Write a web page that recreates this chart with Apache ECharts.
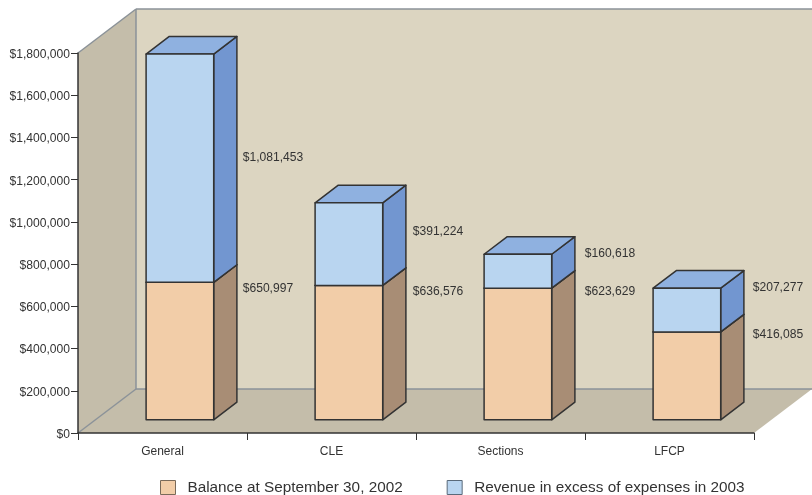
<!DOCTYPE html>
<html><head><meta charset="utf-8">
<style>html,body{margin:0;padding:0;background:#fff}#c{width:812px;height:495px}</style>
<script src="https://cdn.jsdelivr.net/npm/echarts@6/dist/echarts.min.js"></script>
</head><body><div id="c"></div>
<script>
const categories = ['General', 'CLE', 'Sections', 'LFCP'];
const balance = [650997, 636576, 623629, 416085];
const revenue = [1081453, 391224, 160618, 207277];
const seriesNames = ['Balance at September 30, 2002', 'Revenue in excess of expenses in 2003'];
const yTicks = { min: 0, max: 1800000, interval: 200000 };

// layout / style only
const DEPTH_X = 58, DEPTH_Y = 44;       // wall depth in px
const BAR_FRAC = 0.4, FRONT = 0.3, BAR_DEPTH = 0.4; // fractions of band / depth
const balanceLabelNudge = [6, 6, 4, 3];     // px below segment top
const revenueLabelNudge = [104, 29, -1, -1];
const labelGap = [29, 30, 33, 32];          // px right of the bar front
const palette = [
  { front: '#F2CDA8', side: '#A88D75', top: '#D9B795' },
  { front: '#B9D5F0', side: '#7296D0', top: '#8FB1E0' }
];
const EDGE = '#333333', WALL_EDGE = '#8B9298';
const fmt = v => '$' + v.toLocaleString('en-US');

function wallItem(params) {
  const g = params.coordSys, l = g.x, r = g.x + g.width, t = g.y, b = g.y + g.height;
  const dx = DEPTH_X, dy = DEPTH_Y;
  const poly = (pts, fill) => ({ type: 'polygon', shape: { points: pts }, style: { fill: fill, stroke: null } });
  const line = (a, c) => ({ type: 'line', shape: { x1: a[0], y1: a[1], x2: c[0], y2: c[1] }, style: { stroke: WALL_EDGE, lineWidth: 1.5 } });
  return {
    type: 'group',
    children: [
      poly([[l + dx, t - dy], [r + dx, t - dy], [r + dx, b - dy], [l + dx, b - dy]], '#DCD5C1'),
      poly([[l, b], [l + dx, b - dy], [l + dx, t - dy], [l, t]], '#C4BDAA'),
      poly([[l, b], [l + dx, b - dy], [r + dx, b - dy], [r, b]], '#C4BDAA'),
      line([l, t], [l + dx, t - dy]),
      line([l + dx, t - dy], [r + dx, t - dy]),
      line([l + dx, t - dy], [l + dx, b - dy]),
      line([l + dx, b - dy], [r + dx, b - dy]),
      line([l, b], [l + dx, b - dy])
    ]
  };
}

function segmentRenderer(colors, nudges) {
  return function (params, api) {
    const i = api.value(0);
    const p0 = api.coord([i, api.value(1)]);
    const p1 = api.coord([i, api.value(2)]);
    const band = api.size([1, 0])[0];
    const w = band * BAR_FRAC;
    const ox = FRONT * DEPTH_X, oy = FRONT * DEPTH_Y;
    const sx = BAR_DEPTH * DEPTH_X, sy = BAR_DEPTH * DEPTH_Y;
    const x0 = p0[0] - w / 2 + ox, x1 = x0 + w;
    const yb = p0[1] - oy, yt = p1[1] - oy;
    const st = f => ({ fill: f, stroke: EDGE, lineWidth: 1.5, lineJoin: 'round' });
    return {
      type: 'group',
      children: [
        { type: 'polygon', shape: { points: [[x1, yb], [x1 + sx, yb - sy], [x1 + sx, yt - sy], [x1, yt]] }, style: st(colors.side) },
        { type: 'polygon', shape: { points: [[x0, yt], [x1, yt], [x1 + sx, yt - sy], [x0 + sx, yt - sy]] }, style: st(colors.top) },
        { type: 'rect', shape: { x: x0, y: yt, width: w, height: yb - yt }, style: st(colors.front) },
        { type: 'text', x: x1 + labelGap[i], y: yt + nudges[i], style: {
            text: fmt(api.value(2) - api.value(1)), fill: '#333', font: '12.1px "Liberation Sans"',
            align: 'left', verticalAlign: 'middle' } }
      ]
    };
  };
}

const balanceData = categories.map((c, i) => [i, 0, balance[i]]);
const revenueData = categories.map((c, i) => [i, balance[i], balance[i] + revenue[i]]);

const chart = echarts.init(document.getElementById('c'), null, { renderer: 'canvas' });
chart.setOption({
  animation: false,
  backgroundColor: '#fff',
  grid: { left: 78, right: 58, top: 53, bottom: 62, containLabel: false },
  legend: {
    left: 160, top: 480, padding: 0, itemWidth: 15, itemHeight: 14, itemGap: 44,
    textStyle: { fontFamily: 'Liberation Sans', fontSize: 15.3, color: '#333', padding: [0, 0, 0, 7] },
    data: [
      { name: seriesNames[0], icon: 'rect', itemStyle: { color: palette[0].front, borderColor: '#7a6a5a', borderWidth: 1 } },
      { name: seriesNames[1], icon: 'rect', itemStyle: { color: palette[1].front, borderColor: '#5a6a7a', borderWidth: 1 } }
    ]
  },
  xAxis: {
    type: 'category', data: categories, z: 10,
    axisLine: { lineStyle: { color: '#333', width: 1.5 } },
    axisTick: { show: true, alignWithLabel: false, length: 7, lineStyle: { color: '#333', width: 1 } },
    axisLabel: { color: '#333', fontFamily: 'Liberation Sans', fontSize: 12, margin: 13 }
  },
  yAxis: {
    type: 'value', min: yTicks.min, max: yTicks.max, interval: yTicks.interval, z: 10,
    axisLine: { show: true, lineStyle: { color: '#333', width: 1.5 } },
    axisTick: { show: true, length: 7, lineStyle: { color: '#333', width: 1 } },
    splitLine: { show: false },
    axisLabel: { color: '#333', fontFamily: 'Liberation Sans', fontSize: 12.1, margin: 8, formatter: v => '{a|' + fmt(v) + '}', rich: { a: { fontFamily: 'Liberation Sans', fontSize: 12.1, color: '#333', padding: [3, 0, 0, 0] } } }
  },
  series: [
    { type: 'custom', name: 'walls', silent: true, z: 1, renderItem: wallItem, data: [[0, 0]], clip: false, encode: { x: 0, y: 1 } },
    { type: 'custom', name: seriesNames[0], z: 2, renderItem: segmentRenderer(palette[0], balanceLabelNudge), data: balanceData, clip: false, encode: { x: 0, y: [1, 2] } },
    { type: 'custom', name: seriesNames[1], z: 3, renderItem: segmentRenderer(palette[1], revenueLabelNudge), data: revenueData, clip: false, encode: { x: 0, y: [1, 2] } }
  ]
});
</script></body></html>
